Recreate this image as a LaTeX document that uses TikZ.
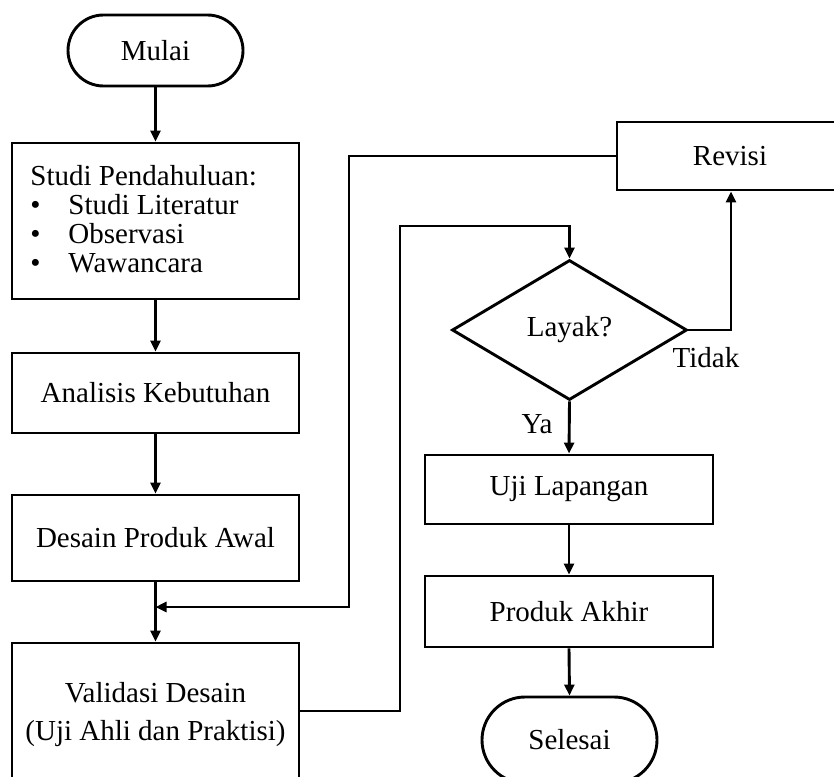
\documentclass[tikz,border=0pt]{standalone}
\usepackage{fontspec}
\setmainfont{Liberation Serif}
\usetikzlibrary{arrows.meta,shapes.misc,shapes.geometric}
\begin{document}
\begin{tikzpicture}[x=1pt,y=-1pt,
  font=\fontsize{29}{29}\selectfont,
  every node/.style={line width=2.9pt},
  box/.style={draw,rectangle,inner sep=0pt,align=center},
  term/.style={draw,rounded rectangle,inner sep=0pt,minimum width=175pt},
  dec/.style={draw,diamond,inner sep=0pt,aspect=1.68,minimum width=235pt,minimum height=140pt},
  arr/.style={line width=2.9pt,-{Triangle[length=11pt,width=10pt]}},
  lbl/.style={inner sep=0pt}]
\useasboundingbox (0,0) rectangle (834,776);
\clip (0,0) rectangle (834,776);

\node[term,minimum height=71pt] (mulai) at (155.5,50.5) {Mulai};
\node[box,minimum width=287pt,minimum height=156pt] (studi) at (155.5,221) {};
\node[lbl,anchor=base west,align=left] (studitxt) at (29,272)
  {Studi Pendahuluan:\\
   \makebox[38pt][l]{•}Studi Literatur\\
   \makebox[38pt][l]{•}Observasi\\
   \makebox[38pt][l]{•}Wawancara};
\node[box,minimum width=287pt,minimum height=80pt] (anal) at (155.5,393) {Analisis Kebutuhan};
\node[box,minimum width=287pt,minimum height=86pt] (desain) at (155.5,538) {Desain Produk Awal};
\node[box,minimum width=287pt,minimum height=158pt] (val) at (155.5,722) {};
\node[lbl,anchor=base,align=center] (valtxt) at (155.5,740)
  {Validasi Desain\\[9pt](Uji Ahli dan Praktisi)};
\node[box,minimum width=226pt,minimum height=68pt] (rev) at (730,156) {Revisi};
\node[dec] (dia) at (569.5,330) {Layak?};
\node[box,minimum width=288pt,minimum height=69pt] (uji) at (569,489.5) {Uji Lapangan};
\node[box,minimum width=288pt,minimum height=71pt] (prod) at (569,611.5) {Produk Akhir};
\node[term,minimum height=86pt] (sel) at (569.5,740) {Selesai};

\coordinate (j) at (155.5,607);
\coordinate (rl) at (349,607);
\coordinate (vr) at (400,226);

\draw[arr] (mulai.south) -- (studi.north);
\draw[arr] (studi.south) -- (anal.north);
\draw[arr] (anal.south) -- (desain.north);
\draw[arr] (desain.south) -- (val.north);
\draw[arr] (rev.west) -| (rl) -- (j);
\draw[arr] ([yshift=11pt]val.east) -| (vr) -| (dia.north);
\draw[arr] (dia.east) -| ([xshift=1pt]rev.south);
\draw[arr] (dia.south) -- (uji.north);
\draw[arr] (uji.south) -- (prod.north);
\draw[arr] (prod.south) -- (sel.north);

\node[lbl] (tidak) at (706,358) {Tidak};
\node[lbl] (ya) at (537,424) {Ya};
\end{tikzpicture}
\end{document}
